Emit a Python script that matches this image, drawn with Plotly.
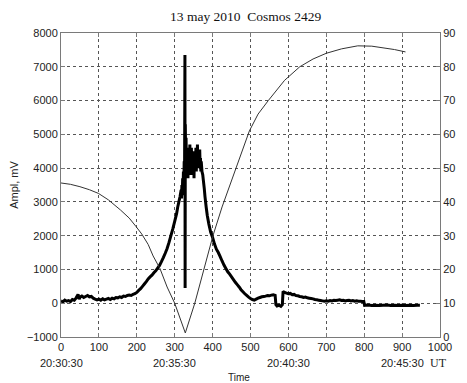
import plotly.graph_objects as go

# ---- data ----
title_text = "13 may 2010\u00a0\u00a0Cosmos 2429"

# Thick trace: signal amplitude, mV (left axis)
sig_x = [0, 5, 10, 15, 20, 25, 30, 35, 40, 45, 48, 50, 55, 60, 65, 70, 75, 80, 85, 90,
         95, 100, 105, 110, 115, 120, 125, 130, 135, 140, 145, 150, 155, 160, 165, 170,
         175, 180, 185, 190, 195, 200, 205, 210, 215, 220, 225, 230, 235, 240, 245, 250,
         255, 260, 265, 270, 275, 280, 285, 290, 295, 300, 305, 308, 311, 314, 317,
         318, 319, 320, 321, 322, 323, 324, 325, 326, 327, 327.5, 328, 329, 330, 331,
         332, 333, 334, 335, 336, 337, 338, 339, 340, 341, 342, 343, 344, 345, 346, 347,
         348, 349, 350, 351, 352, 353, 354, 355, 356, 357, 358, 359, 360, 361, 362, 363,
         364, 365, 366, 367, 368, 369, 370, 372, 374, 376, 378, 380, 383, 386, 390, 395,
         400, 405, 410, 415, 420, 425, 430, 435, 440, 445, 450, 455, 460, 465, 470, 475,
         480, 485, 490, 495, 500, 505, 510, 515, 520, 525, 530, 535, 540, 545, 550, 555,
         560, 565, 567, 570, 575, 580, 584, 586, 590, 595, 600, 605, 610, 615, 620, 625,
         630, 635, 640, 645, 650, 655, 660, 665, 670, 675, 680, 685, 690, 695, 700, 705,
         710, 715, 720, 725, 730, 735, 740, 745, 750, 755, 760, 765, 770, 775, 780, 785,
         790, 795, 799, 801, 810, 820, 830, 840, 850, 860, 870, 880, 890, 900, 910, 920,
         930, 940, 947]
sig_y = [70, 40, 90, 60, 80, 50, 110, 90, 160, 260, 120, 180, 210, 170, 200, 230, 190, 200, 150, 120,
         100, 120, 90, 130, 100, 120, 140, 110, 150, 130, 170, 160, 190, 170, 210, 200,
         230, 240, 230, 260, 280, 320, 380, 430, 500, 570, 640, 720, 780, 830, 900, 960,
         1040, 1120, 1230, 1350, 1480, 1620, 1800, 2000, 2200, 2420, 2650, 2850, 3000, 3150, 3350,
         3100, 3500, 3200, 3700, 3300, 3900, 3400, 4200, 3600, 7350, 450, 5300, 4200, 4900, 3700,
         4600, 3900, 4400, 3700, 4500, 3800, 4300, 3900, 4700, 3800, 4400, 4000, 4600, 3900, 4500, 3800,
         4400, 4000, 4300, 3700, 4500, 3900, 4400, 4000, 4600, 3900, 4400, 4100, 4700, 4000, 4500, 4100,
         4400, 4000, 4550, 4100, 4300, 3900, 4200, 3900, 3800, 3600, 3400, 3150, 2850, 2600, 2350, 2100,
         1950, 1750, 1600, 1500, 1380, 1250, 1130, 1030, 930, 860, 780, 700, 620, 550, 480, 400,
         340, 280, 230, 180, 140, 110, 90, 120, 150, 170, 190, 200, 210, 230, 220, 240,
         250, 230, -40, -80, -60, -90, -40, 350, 320, 300, 280, 290, 250, 260, 230, 220,
         200, 190, 170, 180, 160, 150, 140, 130, 110, 100, 90, 80, 70, 60, 70, 60,
         80, 70, 90, 80, 90, 100, 80, 90, 70, 80, 90, 70, 80, 60, 70, 60,
         60, 50, 50, -60, -50, -70, -60, -70, -60, -50, -70, -60, -70, -60, -70, -60,
         -70, -60, -60]

# Thin trace: angle, degrees (right axis)
ang_x = [0, 25, 50, 75, 99, 125, 157, 180, 198, 213, 230, 243, 261, 280, 300, 328,
         353, 377, 401, 425, 451, 475, 497, 520, 547, 590, 630, 665, 700, 740, 783,
         820, 850, 880, 909]
ang_y = [45.6, 45.2, 44.5, 43.6, 42.5, 40.6, 37.6, 35.2, 32.7, 30.5, 27.4, 24.0, 20.3, 14.8, 10.0, 1.2,
         10.0, 20.0, 30.0, 38.5, 46.5, 54.0, 61.0, 66.0, 70.0, 76.0, 80.0, 82.3, 84.0, 85.3, 86.2,
         86.1, 85.7, 85.1, 84.4]

x_ticks = [0, 100, 200, 300, 400, 500, 600, 700, 800, 900, 1000]
y_ticks = [-1000, 0, 1000, 2000, 3000, 4000, 5000, 6000, 7000, 8000]
y2_ticks = [0, 10, 20, 30, 40, 50, 60, 70, 80, 90]
time_pos = [0, 300, 600, 900]
time_labels = ["20:30:30", "20:35:30", "20:40:30", "20:45:30"]
ut_pos = 995

# ---- figure ----
axis_col = "#7a7a7a"
grid_col = "#555555"
tick_font = dict(family="Liberation Sans, Arial, sans-serif", size=11, color="#222222")

fig = go.Figure()
fig.add_trace(go.Scatter(x=sig_x, y=sig_y, mode="lines",
                         line=dict(color="black", width=3, simplify=False),
                         yaxis="y", showlegend=False))
fig.add_trace(go.Scatter(x=ang_x, y=ang_y, mode="lines",
                         line=dict(color="#333333", width=1), yaxis="y2", showlegend=False))

fig.update_layout(
    width=467, height=383,
    margin=dict(l=61, r=20, t=33, b=46),
    paper_bgcolor="white", plot_bgcolor="white",
    title=dict(text=title_text, x=0.526, xanchor="center", y=0.957, yanchor="middle",
               font=dict(family="Liberation Serif, Times New Roman, serif", size=13.5, color="#111111")),
    xaxis=dict(range=[0, 1000], tickvals=x_ticks, showline=True, linecolor=axis_col, linewidth=1,
               mirror="ticks", ticks="inside", ticklen=4, tickcolor=axis_col,
               showgrid=True, gridcolor=grid_col, griddash="dot", gridwidth=1,
               zeroline=False, tickfont=tick_font),
    yaxis=dict(range=[-1000, 8000], tickvals=y_ticks, showline=True, linecolor=axis_col, linewidth=1,
               ticks="inside", ticklen=4, tickcolor=axis_col,
               showgrid=True, gridcolor=grid_col, griddash="dot", gridwidth=1,
               zeroline=False, tickfont=tick_font,
               title=dict(text="Ampl, mV", font=tick_font, standoff=6)),
    yaxis2=dict(range=[0, 90], tickvals=y2_ticks, overlaying="y", side="right",
                showline=True, linecolor=axis_col, linewidth=1,
                ticks="inside", ticklen=4, tickcolor=axis_col,
                showgrid=False, zeroline=False, tickfont=tick_font),
)

for p, lab in zip(time_pos, time_labels):
    fig.add_annotation(x=p, xref="x", y=-0.084, yref="paper", text=lab, showarrow=False,
                       xanchor="center", yanchor="middle", borderpad=0, font=tick_font)
fig.add_annotation(x=ut_pos, xref="x", y=-0.084, yref="paper", text="UT", showarrow=False,
                   xanchor="center", yanchor="middle", borderpad=0,
                   font=dict(family="Liberation Serif, Times New Roman, serif", size=12, color="#222222"))
fig.add_annotation(x=0.47, xref="paper", y=-0.112, yref="paper", text="Time", showarrow=False,
                   xanchor="center", yanchor="top", borderpad=0,
                   font=dict(family="Liberation Sans, Arial, sans-serif", size=10, color="#222222"))

fig.write_html("out.html")
